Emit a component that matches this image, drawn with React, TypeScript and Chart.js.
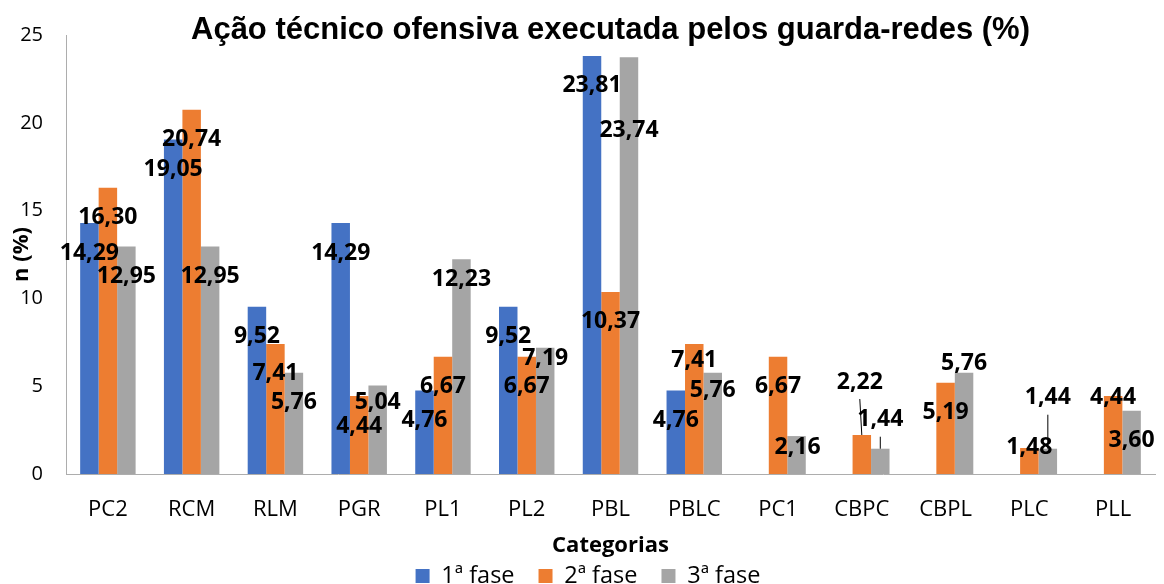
import React, { useEffect, useRef } from 'react';
import { Chart, registerables } from 'chart.js';

Chart.register(...registerables);

const categories = ['PC2', 'RCM', 'RLM', 'PGR', 'PL1', 'PL2', 'PBL', 'PBLC', 'PC1', 'CBPC', 'CBPL', 'PLC', 'PLL'];
const fase1 = [14.29, 19.05, 9.52, 14.29, 4.76, 9.52, 23.81, 4.76, null, null, null, null, null];
const fase2 = [16.3, 20.74, 7.41, 4.44, 6.67, 6.67, 10.37, 7.41, 6.67, 2.22, 5.19, 1.48, 4.44];
const fase3 = [12.95, 12.95, 5.76, 5.04, 12.23, 7.19, 23.74, 5.76, 2.16, 1.44, 5.76, 1.44, 3.6];
const seriesNames = ['1ª fase', '2ª fase', '3ª fase'];
const seriesColors = ['#4472C4', '#ED7D31', '#A5A5A5'];
const yMin = 0;
const yMax = 25;
const yStep = 5;
const titleText = 'Ação técnico ofensiva executada pelos guarda-redes (%)';
const xTitle = 'Categorias';
const yTitle = 'n (%)';

// label placement tweaks (style only): pixel offset from bar top
const labelNudges = [
  { ds: 2, i: 3, dy: 17 },
  { ds: 2, i: 4, dy: 20 },
  { ds: 2, i: 5, dy: 11 },
  { ds: 2, i: 6, dy: 73 },
  { ds: 1, i: 7, dy: 17 },
  { ds: 2, i: 7, dy: 18 },
  { ds: 2, i: 8, dy: 11, dx: 1 },
  { ds: 1, i: 9, dy: -53, dx: -2, leader: true },
  { ds: 2, i: 9, dy: -29, leader: true },
  { ds: 2, i: 10, dy: -9 },
  { ds: 1, i: 11, dy: -1 },
  { ds: 2, i: 11, dy: -51, leader: true },
  { ds: 1, i: 12, dy: 1 },
];

const fmt = (v: number) => v.toFixed(2).replace('.', ',');

const barLabels = {
  id: 'barLabels',
  afterDatasetsDraw(chart: any, _args: any, opts: any) {
    const ctx = chart.ctx;
    ctx.save();
    ctx.font = `bold ${opts.size}px "Open Sans"`;
    ctx.fillStyle = '#000';
    ctx.textAlign = 'center';
    ctx.textBaseline = 'middle';
    chart.data.datasets.forEach((ds: any, di: number) => {
      const meta = chart.getDatasetMeta(di);
      meta.data.forEach((bar: any, i: number) => {
        const v = ds.data[i];
        if (v == null) return;
        const n = opts.nudges.find((k: any) => k.ds === di && k.i === i);
        const dy = n ? n.dy : opts.defaultDy;
        const lx = bar.x + (n && n.dx ? n.dx : 0);
        const ly = bar.y + dy;
        if (n && n.leader) {
          ctx.beginPath();
          ctx.moveTo(lx, ly + 17);
          ctx.lineTo(bar.x, bar.y);
          ctx.strokeStyle = '#000';
          ctx.lineWidth = 1;
          ctx.stroke();
        }
        ctx.fillText(fmt(v), lx, ly);
      });
    });
    ctx.restore();
  },
};

export default function App() {
  const ref = useRef<HTMLCanvasElement | null>(null);
  useEffect(() => {
    if (!ref.current) return;
    Chart.defaults.font.family = '"Open Sans"';
    const chart = new Chart(ref.current, {
      type: 'bar',
      data: {
        labels: categories,
        datasets: [fase1, fase2, fase3].map((d, k) => ({
          label: seriesNames[k],
          data: d,
          backgroundColor: seriesColors[k],
          borderWidth: 0,
          categoryPercentage: 0.662,
          barPercentage: 1,
        })),
      },
      options: {
        animation: false,
        responsive: true,
        maintainAspectRatio: false,
        layout: { padding: { left: 21, right: 9, top: 0, bottom: -13.75 } },
        plugins: {
          title: {
            display: true,
            text: titleText,
            fullSize: false,
            color: '#000',
            font: { family: '"Liberation Sans"', size: 31, weight: 'bold', lineHeight: 1.2 },
            padding: { top: 8.4, bottom: -13.6 },
          },
          legend: {
            position: 'bottom',
            labels: {
              boxWidth: 14,
              boxHeight: 14,
              padding: 24,
              color: '#000',
              font: { size: 23.5 },
            },
          },
          tooltip: { enabled: false },
          barLabels: { size: 23, defaultDy: 30, nudges: labelNudges },
        } as any,
        scales: {
          x: {
            grid: { display: false, drawTicks: false },
            border: { display: true, color: '#ADADAD', width: 1 },
            ticks: { color: '#000', font: { size: 22 }, padding: 23 },
            title: {
              display: true,
              text: xTitle,
              color: '#000',
              font: { size: 22, weight: 'bold', lineHeight: 1.2 },
              padding: { top: 0, bottom: -18.95 },
            },
            afterFit: (s: any) => { s.height = 66.25; },
          },
          y: {
            min: yMin,
            max: yMax,
            grid: { display: false, drawTicks: false },
            border: { display: true, color: '#ADADAD', width: 1 },
            ticks: { stepSize: yStep, color: '#000', font: { size: 20 }, padding: 23 },
            title: {
              display: true,
              text: yTitle,
              color: '#000',
              font: { size: 22, weight: 'bold', lineHeight: 1.2 },
              padding: { top: -12.2, bottom: 0 },
            },
            afterFit: (s: any) => { s.width = 45; },
          },
        },
      },
      plugins: [barLabels],
    });
    return () => chart.destroy();
  }, []);
  return (
    <div style={{ position: 'fixed', left: 0, top: 0, width: 1164, height: 584, background: '#fff' }}>
      <canvas ref={ref} />
    </div>
  );
}
